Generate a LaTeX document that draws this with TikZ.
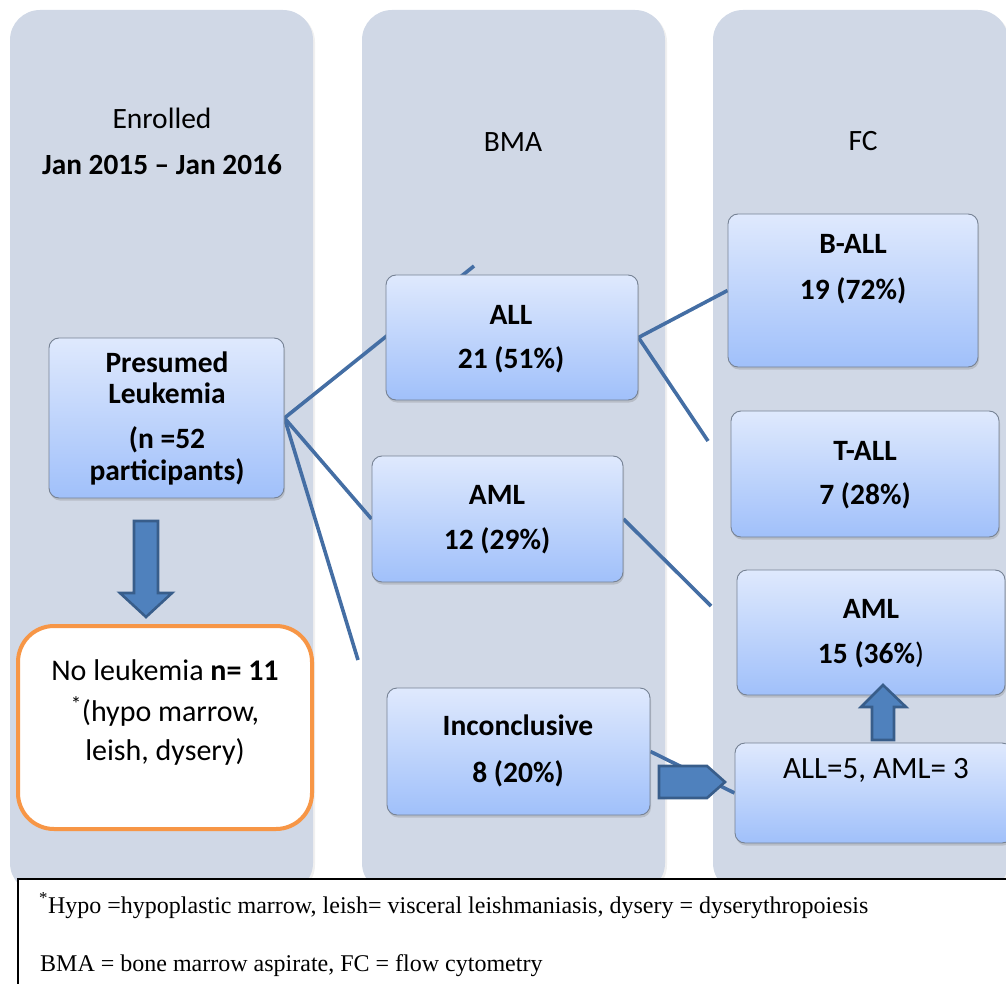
\documentclass[tikz,border=0pt]{standalone}
\usepackage{fontspec}
\setmainfont{Carlito}
\newfontfamily\tnr{Liberation Serif}
\usetikzlibrary{shadows}
\definecolor{colbg}{RGB}{208,216,230}
\definecolor{boxtop}{RGB}{223,233,253}
\definecolor{boxbot}{RGB}{160,192,250}
\definecolor{boxedge}{RGB}{118,130,148}
\definecolor{orng}{RGB}{247,150,70}
\definecolor{arrfill}{RGB}{79,129,189}
\definecolor{arredge}{RGB}{56,93,138}
\definecolor{conn}{RGB}{68,110,164}
\pgfdeclarelayer{bg}
\pgfdeclarelayer{mid}
\pgfsetlayers{bg,mid,main}
\tikzset{
  column/.style={fill=colbg, draw=none, rounded corners=30pt,
    drop shadow={shadow xshift=2pt, shadow yshift=-2pt, opacity=0.12}},
  bluebox/.style={draw=boxedge, line width=0.9pt, rounded corners=10pt,
    top color=boxtop, bottom color=boxbot, inner sep=0pt,
    drop shadow={shadow xshift=1pt, shadow yshift=-2.5pt, opacity=0.3}},
  orangebox/.style={draw=orng, line width=4pt, rounded corners=36pt, fill=white, inner sep=0pt},
  connector/.style={draw=conn, line width=3.6pt},
  blockarrow/.style={fill=arrfill, draw=arredge, line width=2.6pt, line join=miter},
  hdr/.style={anchor=base, font=\fontsize{29.5}{32}\selectfont},
  btxt/.style={anchor=base, font=\fontsize{29.5}{32}\selectfont\bfseries},
  rtxt/.style={anchor=base, font=\fontsize{30}{34}\selectfont},
  legtxt/.style={anchor=base west, inner sep=0pt, font=\tnr\fontsize{24}{28}\selectfont},
}
\begin{document}
\begin{tikzpicture}[x=1pt,y=-1pt]
\useasboundingbox (0,0) rectangle (1006,984);

\begin{pgfonlayer}{bg}
  \path[column] (10,10) rectangle (313,893);
  \path[column] (362,10) rectangle (665,893);
  \path[column] (713,10) rectangle (1008,893);
\end{pgfonlayer}

% column headers
\node[hdr] (h1a) at (162,129) {Enrolled};
\node[hdr, font=\fontsize{29.3}{32}\selectfont\bfseries] (h1b) at (162,175) {Jan 2015 – Jan 2016};
\node[hdr] (h2) at (513,152) {BMA};
\node[hdr] (h3) at (863,151) {FC};

% boxes
\node[bluebox, minimum width=235pt, minimum height=160pt] (pres) at (166.5,418) {};
\node[orangebox, minimum width=294pt, minimum height=203pt] (noleu) at (165,727.5) {};
\node[bluebox, minimum width=252pt, minimum height=125pt] (all) at (512,337.5) {};
\node[bluebox, minimum width=251pt, minimum height=126pt] (aml) at (497.5,519) {};
\node[bluebox, minimum width=263pt, minimum height=127pt] (inc) at (518.5,751.5) {};
\node[bluebox, minimum width=250pt, minimum height=153pt] (ball) at (853,290.5) {};
\node[bluebox, minimum width=268pt, minimum height=126pt] (tall) at (865,474) {};
\node[bluebox, minimum width=268pt, minimum height=125pt] (fcaml) at (871,632.5) {};
\node[bluebox, minimum width=277pt, minimum height=100pt] (mix) at (873.5,793) {};

% texts
\node[btxt] (p1) at (167,372) {Presumed};
\node[btxt] (p2) at (167,403) {Leukemia};
\node[btxt] (p3) at (167,448) {(n =52};
\node[btxt] (p4) at (167,480) {participants)};

\node[rtxt] (n1) at (165,680) {No leukemia \textbf{n= 11}};
\node[rtxt] (n2) at (165,721) {\textsuperscript{*}(hypo marrow,};
\node[rtxt] (n3) at (165,760) {leish, dysery)};

\node[btxt] (a1) at (511,324) {ALL};
\node[btxt] (a2) at (511,368) {21 (51\%)};
\node[btxt] (m1) at (497,504) {AML};
\node[btxt] (m2) at (497,549) {12 (29\%)};
\node[btxt] (i1) at (518,735) {Inconclusive};
\node[btxt] (i2) at (518,782) {8 (20\%)};

\node[btxt] (b1) at (853,254) {B-ALL};
\node[btxt] (b2) at (853,299) {19 (72\%)};
\node[btxt] (t1) at (865,460) {T-ALL};
\node[btxt] (t2) at (865,504) {7 (28\%)};
\node[btxt] (f1) at (871,618) {AML};
\node[rtxt, font=\fontsize{29.5}{32}\selectfont] (f2) at (871,663) {\textbf{15 (36\%})};
\node[rtxt, font=\fontsize{31}{34}\selectfont] (x1) at (876,778) {ALL=5, AML= 3};

% connectors
\coordinate (c1) at (474,266);
\coordinate (c2) at (358,660);
\coordinate (c3) at (708,441);
\coordinate (c4) at (711,606);
\begin{pgfonlayer}{mid}
  \draw[connector] (pres.east) -- (c1);
  \draw[connector] (pres.east) -- (aml.west);
  \draw[connector] (pres.east) -- (c2);
  \draw[connector] (all.east) -- (ball.west);
  \draw[connector] (all.east) -- (c3);
  \draw[connector] (aml.east) -- (c4);
  \draw[connector] (inc.east) -- (mix.west);
\end{pgfonlayer}

% block arrows
\draw[blockarrow] (134,521) -- (158,521) -- (158,593) -- (172,593) -- (146,617) -- (120,593) -- (134,593) -- cycle;
\draw[blockarrow] (872,740) -- (894,740) -- (894,707) -- (906,707) -- (883,685) -- (861,707) -- (872,707) -- cycle;
\draw[blockarrow] (659,766) -- (707,766) -- (725,782) -- (707,798) -- (659,798) -- cycle;

% legend
\draw[line width=2pt, fill=white] (18,879) rectangle (1014,1000);
\node[legtxt] (l1) at (39,913) {\textsuperscript{*}Hypo =hypoplastic marrow, leish= visceral leishmaniasis, dysery = dyserythropoiesis};
\node[legtxt] (l2) at (40,971) {BMA = bone marrow aspirate, FC = flow cytometry};
\end{tikzpicture}
\end{document}
